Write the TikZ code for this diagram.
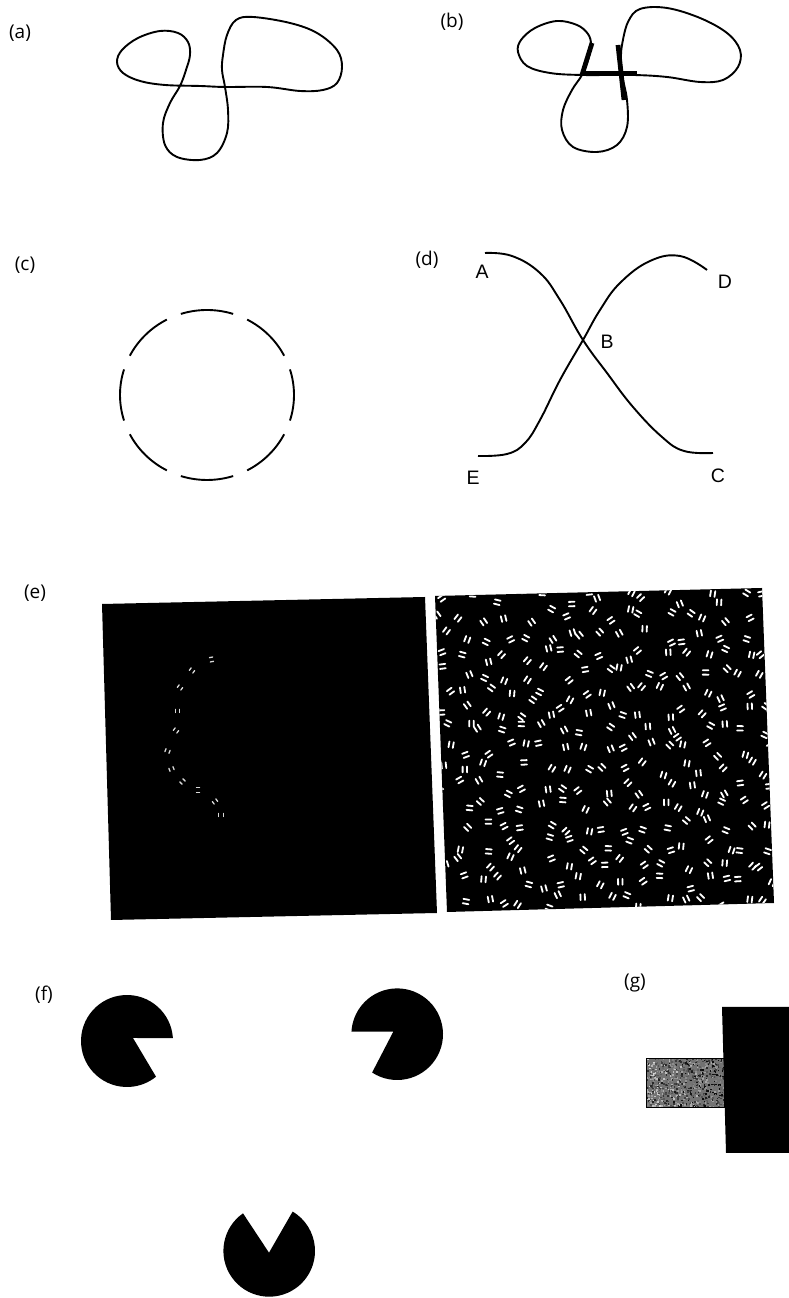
\documentclass[tikz,border=0pt]{standalone}
\usepackage{fontspec}
\setmainfont{Open Sans}
\newfontfamily\letfont{Liberation Sans}
\begin{document}
\begin{tikzpicture}[x=1pt,y=1pt,
  curve/.style={line width=1.9pt, line join=round},
  barline/.style={line width=4.8pt},
  panellabel/.style={font=\fontsize{19}{22}\selectfont, inner sep=0pt},
  ptlabel/.style={font=\letfont\fontsize{19.5}{22}\selectfont, inner sep=0pt},
  markw/.style={white, line width=1.8pt, line cap=round},
  markl/.style={white!85!black, line width=1.3pt, line cap=round},
  pac/.style={fill=black}]
\useasboundingbox (0,0) rectangle (789,1298);
\fill[white] (0,0) rectangle (789,1298);
\pgfmathsetseed{4242}
\begin{scope}[yshift=1298pt, yscale=-1]
  % ---------- labels ----------
  \node[panellabel] (la) at (20,33) {(a)};
  \node[panellabel] (lb) at (452,22) {(b)};
  \node[panellabel] (lc) at (25,265) {(c)};
  \node[panellabel] (ld) at (427,260) {(d)};
  \node[panellabel] (le) at (35,593) {(e)};
  \node[panellabel] (lf) at (44,995) {(f)};
  \node[panellabel] (lg) at (635,983) {(g)};
  % ---------- (a) ----------
  \draw[curve] plot[smooth cycle, tension=0.6] coordinates {
    (180,86) (186,70) (190,55) (188,42) (178,33) (160,31) (138,38) (122,50)
    (117,62) (123,73) (140,81) (165,85) (200,86) (225,87) (267,87) (300,91)
    (323,90) (337,83) (342,67) (337,50) (317,33) (290,23) (253,17) (236,20)
    (227,35) (223,55) (222,70) (225,87) (228,110) (227,133) (217,153) (200,160)
    (177,157) (165,145) (163,123) (170,103)};
  % ---------- (b) ----------
  \draw[curve] plot[smooth cycle, tension=0.6] coordinates {
    (582,75) (588,60) (591,45) (588,34) (577,25) (557,21) (535,28) (521,40)
    (518,52) (527,66) (550,73) (582,75) (633,75) (667,77) (700,82) (723,80)
    (738,67) (740,50) (727,33) (700,18) (667,8) (640,9) (628,22) (622,45)
    (621,60) (622,75) (627,100) (627,127) (617,145) (597,152) (573,147)
    (562,130) (563,110) (572,90)};
  \coordinate (b1) at (592,43);
  \coordinate (b2) at (582,75);
  \coordinate (b3) at (581,73);
  \coordinate (b4) at (637,73);
  \coordinate (b5) at (618,45);
  \coordinate (b6) at (624,100);
  \draw[barline] (b1) -- (b2);
  \draw[barline] (b3) -- (b4);
  \draw[barline] (b5) -- (b6);
  % ---------- (d) ----------
  \draw[curve] plot[smooth, tension=0.7] coordinates {
    (485,253) (512,256) (540,273) (560,300) (583,340) (607,373) (633,407)
    (662,437) (684,451) (713,453)};
  \draw[curve] plot[smooth, tension=0.7] coordinates {
    (478,456) (507,454) (525,443) (540,420) (560,380) (583,340) (600,310)
    (620,283) (650,261) (680,256) (707,270)};
  \node[ptlabel] (nA) at (482,272) {A};
  \node[ptlabel] (nB) at (607,342) {B};
  \node[ptlabel] (nC) at (718,476) {C};
  \node[ptlabel] (nD) at (725,282) {D};
  \node[ptlabel] (nE) at (473,478) {E};
  % ---------- (e) left panel ----------
  \fill (102,604) -- (425,597) -- (437,913) -- (111,920) -- cycle;
  \foreach \px/\py/\pa in {211.5/659.5/79, 192/670.5/37, 180/687.5/37,
      177.5/711/0, 176/730.5/37, 167.5/751/22, 171.5/769/-22,
      182.5/781.5/-45, 198/790/90, 215/801.5/-37, 221/815/0}{
    \draw[markl, shift={(\px,\py)}, rotate=\pa]
      (-2.2,-1.6) -- (-2.2,1.6) (2.2,-1.6) -- (2.2,1.6);
  }
  % ---------- (e) right panel ----------
  \fill (435,596) -- (762,588) -- (774,903) -- (447,912) -- cycle;
  \begin{scope}
    \clip (435,596) -- (762,588) -- (774,903) -- (447,912) -- cycle;
    \foreach \i in {0,...,16}{
      \foreach \j in {0,...,16}{
        \pgfmathsetmacro\px{437+\i*20+rnd*16}
        \pgfmathsetmacro\py{590+\j*19+rnd*15}
        \pgfmathsetmacro\pa{rnd*180}
        \draw[markw, shift={(\px,\py)}, rotate=\pa]
          (-2.2,-2.9) -- (-2.2,2.9) (2.2,-2.9) -- (2.2,2.9);
      }
    }
  \end{scope}
  % ---------- (g) ----------
  \fill[black!55] (646,1058) rectangle (724,1107);
  \begin{scope}
    \clip (646,1058) rectangle (724,1107);
    \foreach \k in {1,...,900}{
      \pgfmathsetmacro\sx{646+rnd*78}
      \pgfmathsetmacro\sy{1058+rnd*49}
      \pgfmathtruncatemacro\g{max(5,min(95,15+rnd*70+(\sx-646)*0.3))}
      \fill[black!\g] (\sx,\sy) rectangle +(1.6,1.6);
    }
  \end{scope}
  \draw[black, line width=0.8pt] (646,1058) rectangle (724,1107);
  \fill (722,1007) -- (800,1007) -- (800,1153) -- (726,1153) -- cycle;
\end{scope}
% ---------- (c) dashed circle (y-up) ----------
\foreach \k in {0,...,7}{
  \pgfmathsetmacro\sa{\k*45-17.5}
  \draw[curve] ([shift={(207,903)}]\sa:87 and 85) arc[start angle=\sa, delta angle=35, x radius=87, y radius=85];
}
% ---------- (f) pacmen (y-up) ----------
\fill[pac] (133,260) -- ([shift={(127,257)}]3.7:46) arc[start angle=3.7, end angle=309.1, radius=46] -- cycle;
\fill[pac] (393.3,266.3) -- ([shift={(397.2,263.8)}]236.8:45.8) arc[start angle=236.8, end angle=536.9, radius=45.8] -- cycle;
\fill[pac] (269,45.3) -- ([shift={(269.2,47.1)}]124.9:45.8) arc[start angle=124.9, end angle=419.2, radius=45.8] -- cycle;
\end{tikzpicture}
\end{document}
